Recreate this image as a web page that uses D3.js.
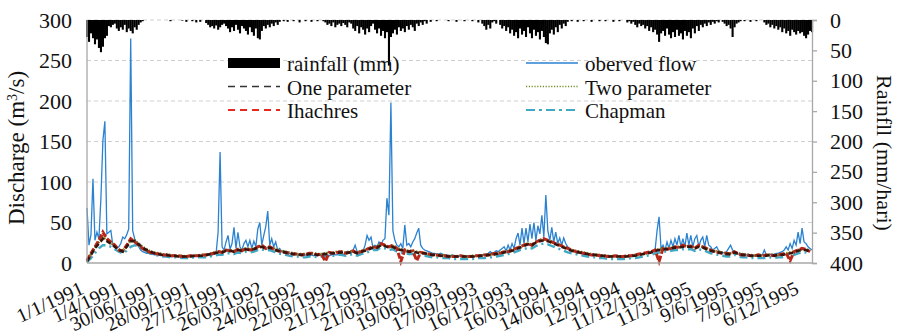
<!DOCTYPE html>
<html>
<head>
<meta charset="utf-8">
<script src="https://cdn.jsdelivr.net/npm/d3@7"></script>
<style>
  body { margin: 0; background: #fff; }
  svg { display: block; }
  text { font-family: "Liberation Serif", "Times New Roman", serif; fill: #111; }
</style>
</head>
<body>
<svg id="chart" width="897" height="335"></svg>
<script>
// Daily record 1/1/1991 - 31/12/1995, sampled every 5 days (flow, rainfall)
// and every 10 days (model runs).
const totalDays = 1825;
const flowStep = 5;
const modelStep = 10;

// Observed discharge (m3/s)
const observedFlow = [
  68, 22, 35, 104, 28, 38, 30, 80, 151, 175, 36, 38, 40, 22, 20, 18, 20, 24, 32, 30,
  35, 42, 277, 40, 30, 25, 20, 16, 14, 13, 12, 12, 11, 11, 10, 10, 10, 9, 9, 9,
  8, 9, 8, 8, 9, 8, 8, 7, 8, 8, 8, 9, 8, 8, 8, 9, 8, 8, 9, 10,
  10, 10, 9, 10, 11, 12, 38, 137, 20, 16, 26, 34, 17, 24, 44, 18, 38, 20, 16, 24,
  28, 20, 28, 18, 27, 20, 42, 50, 22, 34, 45, 64, 22, 30, 20, 26, 16, 18, 14, 15,
  14, 13, 12, 12, 11, 11, 10, 10, 11, 10, 10, 9, 10, 10, 9, 10, 10, 11, 10, 10,
  10, 10, 9, 10, 11, 10, 10, 12, 11, 10, 12, 14, 12, 12, 16, 22, 14, 13, 12, 15,
  22, 34, 28, 32, 18, 22, 20, 26, 22, 28, 30, 80, 59, 198, 40, 28, 22, 20, 24, 18,
  47, 22, 24, 20, 26, 30, 37, 43, 22, 18, 16, 15, 14, 13, 12, 12, 11, 11, 12, 11,
  10, 10, 9, 9, 10, 9, 9, 8, 9, 9, 8, 8, 9, 9, 8, 8, 9, 9, 10, 10,
  10, 11, 12, 14, 12, 13, 15, 14, 16, 18, 20, 15, 22, 16, 24, 18, 30, 37, 22, 43,
  24, 43, 26, 48, 30, 50, 28, 46, 36, 59, 32, 84, 40, 28, 44, 26, 38, 24, 31, 22,
  31, 24, 20, 18, 16, 15, 14, 13, 12, 12, 11, 11, 10, 10, 10, 11, 10, 10, 9, 9,
  9, 9, 8, 8, 9, 8, 8, 8, 9, 8, 8, 8, 9, 9, 8, 8, 9, 10, 10, 11,
  11, 12, 12, 13, 14, 14, 16, 40, 57, 18, 22, 16, 26, 18, 28, 20, 30, 22, 34, 20,
  30, 20, 37, 22, 34, 20, 30, 34, 20, 28, 32, 20, 34, 22, 20, 16, 18, 20, 15, 14,
  13, 12, 14, 18, 22, 16, 14, 12, 11, 11, 10, 10, 10, 9, 9, 10, 9, 9, 10, 10,
  10, 16, 10, 10, 11, 10, 11, 12, 12, 13, 14, 16, 20, 16, 24, 18, 28, 22, 38, 24,
  43, 26, 24, 20, 18, 16
];

// Rainfall (mm)
const rainfall = [
  28, 36, 22, 30, 40, 32, 46, 53, 44, 30, 26, 10, 12, 8, 6, 14, 18, 12, 16, 8,
  20, 14, 18, 22, 12, 16, 8, 4, 2, 0, 0, 0, 0, 0, 0, 0, 0, 0, 0, 0,
  0, 0, 2, 0, 0, 0, 0, 0, 1, 0, 3, 0, 0, 2, 0, 4, 0, 3, 0, 0,
  5, 8, 12, 10, 14, 9, 16, 12, 8, 6, 10, 14, 20, 12, 18, 8, 16, 22, 10, 14,
  18, 24, 12, 20, 26, 14, 30, 32, 18, 10, 14, 8, 12, 6, 10, 4, 8, 3, 0, 2,
  0, 3, 0, 0, 2, 0, 0, 4, 0, 0, 2, 0, 0, 3, 0, 0, 2, 0, 0, 2,
  4, 8, 6, 10, 4, 12, 8, 6, 10, 5, 8, 12, 4, 6, 14, 18, 10, 22, 12, 16,
  24, 14, 20, 10, 6, 16, 22, 14, 26, 18, 30, 20, 75, 28, 22, 16, 24, 12, 18, 14,
  20, 10, 16, 8, 12, 18, 6, 10, 4, 8, 2, 6, 0, 3, 0, 0, 2, 0, 0, 0,
  0, 0, 2, 0, 0, 0, 3, 0, 0, 0, 2, 0, 0, 0, 2, 0, 0, 4, 0, 6,
  10, 16, 8, 14, 4, 2, 6, 0, 8, 14, 10, 18, 12, 22, 16, 26, 20, 30, 14, 24,
  18, 28, 12, 22, 30, 16, 26, 20, 32, 18, 28, 38, 40, 22, 16, 24, 12, 20, 8, 14,
  6, 10, 3, 0, 2, 0, 0, 3, 0, 0, 2, 0, 0, 0, 3, 0, 0, 0, 2, 0,
  0, 2, 0, 0, 0, 3, 0, 0, 2, 0, 0, 0, 4, 2, 6, 3, 8, 12, 6, 10,
  8, 14, 10, 18, 12, 20, 16, 24, 36, 22, 18, 26, 14, 24, 30, 20, 28, 16, 26, 22,
  32, 18, 26, 20, 30, 14, 22, 10, 18, 8, 12, 6, 10, 4, 8, 3, 6, 2, 4, 0,
  3, 6, 10, 8, 14, 28, 12, 6, 4, 2, 0, 2, 0, 0, 3, 0, 0, 2, 0, 0,
  0, 4, 8, 6, 12, 8, 14, 10, 16, 12, 20, 14, 22, 18, 26, 16, 20, 24, 18, 22,
  20, 26, 30, 24, 18, 20
];

// Simulated discharge (m3/s)
const oneParameter = [
  2, 10, 18, 24, 30, 27, 24, 20, 16, 14,
  20, 27, 27, 23, 19, 16, 14, 12, 11, 10,
  10, 9, 9, 8, 8, 8, 8, 9, 9, 9,
  10, 11, 12, 13, 13, 15, 15, 14, 16, 15,
  17, 16, 17, 19, 20, 18, 19, 17, 15, 14,
  13, 12, 11, 11, 10, 10, 11, 11, 10, 11,
  11, 12, 12, 13, 13, 12, 13, 14, 12, 14,
  15, 17, 19, 19, 22, 21, 19, 20, 17, 16,
  15, 14, 14, 13, 12, 12, 11, 10, 10, 9,
  9, 8, 8, 8, 8, 8, 8, 8, 8, 9,
  9, 10, 10, 11, 12, 13, 14, 15, 17, 19,
  21, 23, 22, 25, 27, 28, 27, 25, 23, 21,
  19, 17, 15, 14, 13, 12, 11, 10, 10, 9,
  9, 8, 8, 8, 8, 8, 8, 9, 9, 10,
  11, 12, 13, 15, 16, 17, 17, 18, 19, 19,
  20, 20, 20, 18, 20, 19, 17, 15, 14, 13,
  12, 11, 11, 13, 11, 10, 10, 9, 9, 9,
  9, 9, 10, 9, 10, 10, 11, 12, 13, 15,
  16, 16, 14
];

const twoParameter = [
  3, 11, 19, 26, 32, 28, 25, 21, 17, 15,
  21, 28, 28, 24, 20, 17, 14, 13, 12, 11,
  10, 10, 9, 9, 9, 8, 9, 9, 9, 10,
  10, 11, 13, 14, 14, 16, 16, 15, 17, 16,
  18, 17, 18, 20, 21, 19, 20, 18, 16, 15,
  14, 13, 12, 11, 11, 11, 12, 12, 11, 11,
  12, 13, 13, 14, 14, 13, 14, 15, 13, 15,
  16, 18, 20, 20, 23, 22, 20, 21, 18, 17,
  16, 15, 15, 14, 13, 12, 11, 11, 10, 10,
  9, 9, 9, 8, 9, 8, 8, 9, 9, 9,
  10, 10, 11, 12, 13, 14, 15, 16, 18, 20,
  22, 24, 23, 26, 28, 29, 28, 26, 24, 22,
  20, 18, 16, 15, 14, 13, 12, 11, 10, 10,
  9, 9, 8, 9, 8, 8, 9, 9, 10, 10,
  11, 12, 14, 16, 17, 18, 18, 19, 20, 20,
  21, 21, 21, 19, 21, 20, 18, 16, 15, 14,
  13, 12, 12, 13, 12, 11, 10, 10, 9, 10,
  9, 10, 10, 10, 10, 11, 12, 13, 14, 16,
  17, 17, 15
];

const ihachres = [
  3, 12, 20, 28, 38, 30, 26, 22, 16, 15,
  22, 30, 26, 22, 18, 15, 13, 12, 11, 10,
  10, 9, 9, 9, 8, 8, 9, 9, 9, 10,
  10, 11, 12, 14, 13, 16, 15, 14, 17, 15,
  18, 16, 17, 20, 22, 18, 20, 17, 15, 14,
  13, 12, 11, 11, 10, 11, 12, 12, 10, 11,
  2, 13, 12, 13, 14, 12, 13, 15, 12, 14,
  16, 18, 20, 19, 24, 22, 20, 22, 18, 2,
  16, 14, 15, 3, 13, 12, 11, 10, 10, 9,
  9, 8, 8, 8, 9, 8, 8, 8, 9, 9,
  10, 10, 11, 12, 12, 14, 14, 16, 18, 20,
  22, 24, 22, 26, 28, 30, 28, 26, 24, 22,
  20, 18, 16, 14, 13, 12, 11, 10, 10, 9,
  9, 8, 8, 9, 8, 8, 9, 9, 10, 11,
  12, 13, 14, 16, 2, 18, 17, 18, 20, 19,
  22, 20, 21, 18, 22, 20, 18, 16, 14, 13,
  12, 12, 11, 14, 11, 10, 10, 9, 9, 10,
  9, 10, 10, 9, 10, 11, 12, 3, 14, 16,
  18, 17, 14
];

const chapman = [
  1, 6, 12, 18, 22, 22, 20, 17, 14, 12,
  15, 20, 22, 20, 17, 14, 12, 10, 9, 8,
  8, 7, 7, 7, 6, 6, 6, 7, 7, 7,
  7, 8, 9, 10, 10, 12, 12, 11, 13, 12,
  14, 13, 14, 16, 17, 15, 16, 14, 12, 11,
  10, 9, 8, 8, 7, 7, 8, 8, 7, 8,
  8, 9, 9, 10, 10, 9, 10, 11, 9, 11,
  12, 14, 16, 16, 19, 18, 16, 17, 14, 13,
  12, 11, 11, 10, 9, 9, 8, 7, 7, 6,
  6, 6, 5, 5, 5, 5, 5, 5, 6, 6,
  6, 7, 7, 8, 9, 10, 11, 12, 14, 16,
  17, 19, 18, 21, 23, 24, 23, 21, 19, 17,
  15, 13, 12, 11, 10, 9, 8, 7, 7, 6,
  6, 5, 5, 5, 5, 5, 5, 6, 6, 7,
  8, 9, 10, 12, 13, 14, 14, 15, 16, 16,
  17, 17, 17, 15, 17, 16, 14, 12, 11, 10,
  9, 8, 8, 10, 8, 7, 7, 6, 6, 6,
  6, 6, 7, 6, 7, 7, 8, 9, 10, 12,
  13, 13, 11
];

// Category labels, one every 90 days
const dateLabels = [
  "1/1/1991", "1/4/1991", "30/06/1991", "28/09/1991", "27/12/1991",
  "26/03/1992", "24/06/1992", "22/09/1992", "21/12/1992", "21/03/1993",
  "19/06/1993", "17/09/1993", "16/12/1993", "16/03/1994", "14/06/1994",
  "12/9/1994", "11/12/1994", "11/3/1995", "9/6/1995", "7/9/1995", "6/12/1995"
];
const labelStep = 90;
const flowTicks = [0, 50, 100, 150, 200, 250, 300];
const rainTicks = [0, 50, 100, 150, 200, 250, 300, 350, 400];

const legendItems = [
  { name: "rainfall (mm)", kind: "bar" },
  { name: "One parameter", color: "#333", dash: "7,5", width: 1.6 },
  { name: "Ihachres", color: "#e8281e", dash: "7,5", width: 2.2 },
  { name: "oberved flow", color: "#2a82d0", dash: null, width: 1.6 },
  { name: "Two parameter", color: "#6f8f2c", dash: "1.2,1.6", width: 1.6 },
  { name: "Chapman", color: "#3fa9c4", dash: "9,4,3,4", width: 2 }
];

const svg = d3.select("#chart");
const plot = { left: 87, right: 812, top: 20, bottom: 263 };

const x = d3.scaleLinear().domain([0, totalDays]).range([plot.left, plot.right]);
const yFlow = d3.scaleLinear().domain([0, 300]).range([plot.bottom, plot.top]);
const yRain = d3.scaleLinear().domain([0, 400]).range([plot.top, plot.bottom]);

// gridlines
svg.append("g").selectAll("line")
  .data(flowTicks.filter(v => v > 0))
  .join("line")
  .attr("x1", plot.left).attr("x2", plot.right)
  .attr("y1", d => yFlow(d)).attr("y2", d => yFlow(d))
  .attr("stroke", "#cfcfcf").attr("stroke-width", 1)
  .attr("stroke-dasharray", "4,3");

// rainfall bars hanging from the top
svg.append("g").selectAll("rect")
  .data(rainfall)
  .join("rect")
  .attr("x", (d, i) => x(i * flowStep) - 1)
  .attr("width", 2.1)
  .attr("y", yRain(0))
  .attr("height", d => yRain(d) - yRain(0))
  .attr("fill", "#000");

// observed flow
const flowLine = d3.line().x((d, i) => x(i * flowStep)).y(d => yFlow(d));
svg.append("path")
  .datum(observedFlow)
  .attr("fill", "none")
  .attr("stroke", "#2a82d0")
  .attr("stroke-width", 1.3)
  .attr("stroke-linejoin", "miter")
  .attr("d", flowLine);

// model runs
const modelLine = d3.line().x((d, i) => x(i * modelStep)).y(d => yFlow(d));
const models = [
  { values: chapman, color: "#3fa9c4", dash: "8,4,2,4", width: 2.4 },
  { values: twoParameter, color: "#6f8f2c", dash: "1.5,1.5", width: 2.6 },
  { values: ihachres, color: "#b8281a", dash: "6,2", width: 3 },
  { values: oneParameter, color: "#3a140c", dash: "5,3", width: 2.6 }
];
svg.append("g").selectAll("path")
  .data(models)
  .join("path")
  .attr("fill", "none")
  .attr("stroke", d => d.color)
  .attr("stroke-width", d => d.width)
  .attr("stroke-dasharray", d => d.dash)
  .attr("d", d => modelLine(d.values));

// axis lines
const axisColor = "#a8a8a8";
svg.append("line").attr("x1", plot.left).attr("x2", plot.left)
  .attr("y1", plot.top).attr("y2", plot.bottom)
  .attr("stroke", axisColor).attr("stroke-width", 1.3);
svg.append("line").attr("x1", plot.left).attr("x2", plot.right)
  .attr("y1", plot.bottom).attr("y2", plot.bottom)
  .attr("stroke", axisColor).attr("stroke-width", 1.3);

// left axis labels
svg.append("g").selectAll("text")
  .data(flowTicks)
  .join("text")
  .attr("x", 72).attr("y", d => yFlow(d))
  .attr("dy", "0.35em")
  .attr("text-anchor", "end")
  .attr("font-size", 22)
  .text(d => d);

// right axis
const rightAxis = d3.axisRight(yRain).tickValues(rainTicks).tickSize(5).tickPadding(13);
const ra = svg.append("g").attr("transform", `translate(${plot.right},0)`).call(rightAxis);
ra.select(".domain").attr("stroke", axisColor).attr("stroke-width", 1.3);
ra.selectAll(".tick line").attr("stroke", axisColor).attr("stroke-width", 1.3);
ra.selectAll(".tick text")
  .attr("font-family", "Liberation Serif, Times New Roman, serif")
  .attr("font-size", 22).attr("fill", "#111");

// date labels
svg.append("g").selectAll("text")
  .data(dateLabels)
  .join("text")
  .attr("transform", (d, i) => `translate(${x(i * labelStep) - 2},293) rotate(-25)`)
  .attr("text-anchor", "end")
  .attr("font-size", 20)
  .text(d => d);

// axis titles
const leftTitle = svg.append("text")
  .attr("transform", "translate(24,148) rotate(-90)")
  .attr("text-anchor", "middle")
  .attr("font-size", 23);
leftTitle.append("tspan").text("Discharge (m");
leftTitle.append("tspan").attr("baseline-shift", "super").attr("font-size", 14).text("3");
leftTitle.append("tspan").text("/s)");

svg.append("text")
  .attr("transform", "translate(877,153) rotate(90)")
  .attr("text-anchor", "middle")
  .attr("font-size", 22)
  .text("Rainfll (mm/hari)");

// legend
const legend = svg.append("g");
legendItems.forEach((item, i) => {
  const col = i < 3 ? 0 : 1;
  const row = i % 3;
  const lx = col === 0 ? 228 : 526;
  const ly = 63 + row * 23.5;
  const g = legend.append("g");
  if (item.kind === "bar") {
    g.append("rect").attr("x", lx).attr("y", ly - 5).attr("width", 52).attr("height", 10).attr("fill", "#000");
  } else {
    g.append("line").attr("x1", lx).attr("x2", lx + 52).attr("y1", ly).attr("y2", ly)
      .attr("stroke", item.color).attr("stroke-width", item.width)
      .attr("stroke-dasharray", item.dash);
  }
  g.append("text").attr("x", lx + 59).attr("y", ly + 8)
    .attr("font-size", 21).text(item.name);
});
</script>
</body>
</html>
